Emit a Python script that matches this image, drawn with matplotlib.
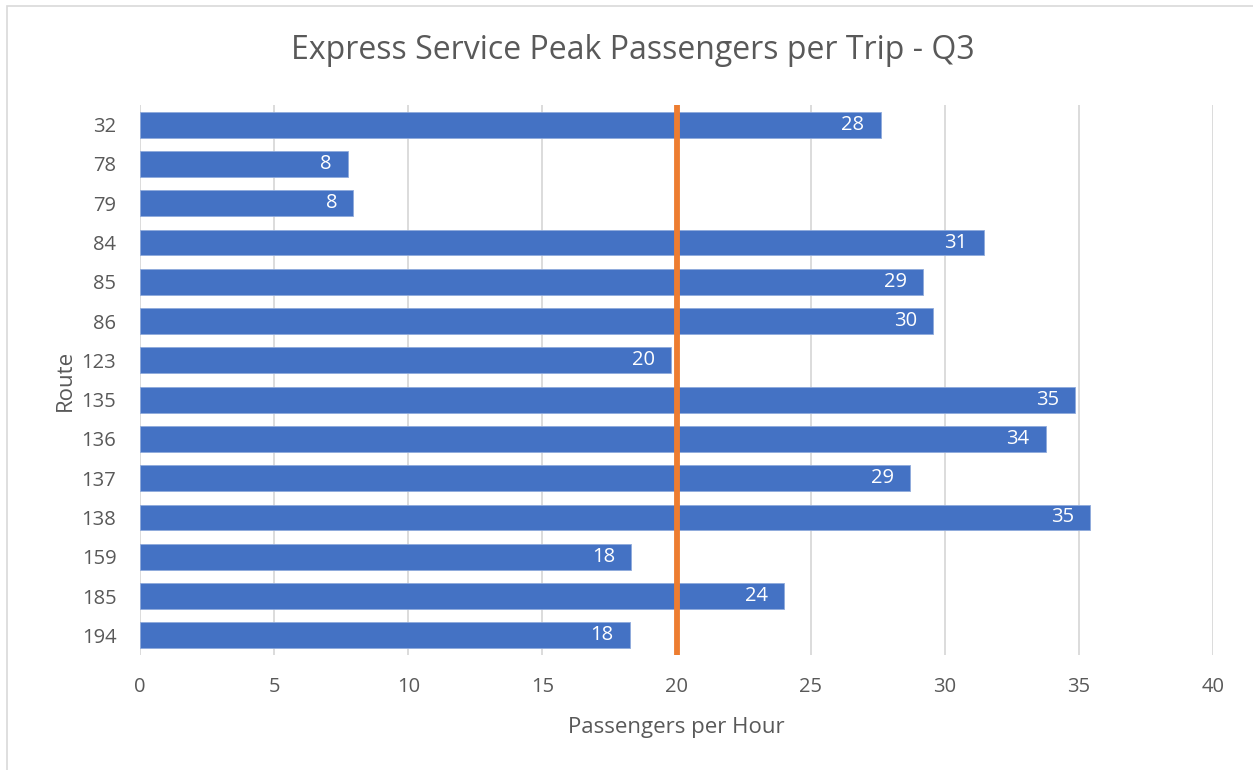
import matplotlib.pyplot as plt
from matplotlib.patches import Rectangle

# 数据
routes = ['32', '78', '79', '84', '85', '86', '123', '135', '136', '137', '138', '159', '185', '194']
passengers = [27.6, 7.75, 7.95, 31.45, 29.2, 29.55, 19.8, 34.85, 33.75, 28.7, 35.4, 18.3, 24.0, 18.25]
target = 20

plt.rcParams['font.family'] = ['Open Sans', 'DejaVu Sans']
text_color = '#595959'

fig = plt.figure(figsize=(12.53, 7.7), dpi=100, facecolor='white')
ax = fig.add_axes([0.1117, 0.1494, 0.8566, 0.7142])

ypos = list(range(len(routes)))
bars = ax.barh(ypos, passengers, height=0.66, color='#4472C4', edgecolor='#8FAADC', linewidth=0.6, zorder=2)

# 数值标签
for bar, val in zip(bars, passengers):
    ax.text(bar.get_width() - 0.6, bar.get_y() + bar.get_height() / 2, f'{val:.0f}',
            ha='right', va='center', color='white', fontsize=14.5, zorder=3)

# 目标线
ax.axvline(target, color='#ED7D31', linewidth=4.2, zorder=4)

ax.set_xlim(0, 40)
ax.set_ylim(len(routes) - 0.5, -0.5)
ax.set_xticks(range(0, 41, 5))
ax.set_yticks(ypos)
ax.set_yticklabels(routes)
ax.tick_params(axis='both', length=0, labelsize=14.5, colors=text_color)
ax.tick_params(axis='x', pad=16)
ax.tick_params(axis='y', pad=17)
ax.grid(axis='x', color='#D9D9D9', linewidth=1.3, zorder=0)
ax.set_axisbelow(True)
for s in ax.spines.values():
    s.set_visible(False)

ax.set_xlabel('Passengers per Hour', fontsize=16, color=text_color, labelpad=14)
ax.set_ylabel('Route', fontsize=16, color=text_color, labelpad=4)
fig.text(0.505, 0.935, 'Express Service Peak Passengers per Trip - Q3', ha='center', va='center',
         fontsize=23, color=text_color)

# 图表边框
fig.patches.append(Rectangle((7 / 1253, -0.05), 1.1, 1 - 6 / 770 + 0.05, transform=fig.transFigure,
                             fill=False, edgecolor='#D9D9D9', linewidth=1.2))

fig.savefig('out.png', dpi=100, facecolor='white')
